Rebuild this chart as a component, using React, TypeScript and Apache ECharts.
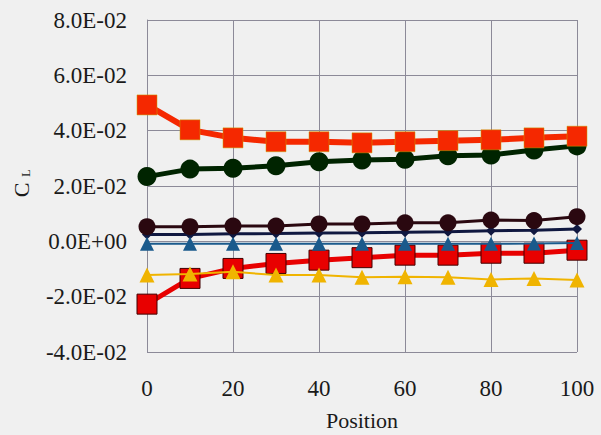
import React, { useEffect, useRef } from "react";
import * as echarts from "echarts";

const positions = [0, 10, 20, 30, 40, 50, 60, 70, 80, 90, 100];
const redTop = [0.0493, 0.0403, 0.0374, 0.036, 0.036, 0.0356, 0.036, 0.0364, 0.0367, 0.0374, 0.038];
const greenCircles = [0.0234, 0.0261, 0.0264, 0.0273, 0.0288, 0.0294, 0.0297, 0.0309, 0.0312, 0.033, 0.0345];
const brownCircles = [0.0053, 0.0053, 0.0055, 0.0055, 0.0063, 0.0063, 0.0067, 0.0067, 0.0077, 0.0075, 0.0089];
const navyDiamonds = [0.0025, 0.0025, 0.0027, 0.0028, 0.003, 0.0031, 0.0033, 0.0035, 0.0038, 0.004, 0.0045];
const blueTriangles = [-0.0009, -0.0009, -0.0009, -0.0009, -0.0009, -0.0009, -0.0009, -0.0009, -0.0009, -0.0008, -0.0006];
const yellowTriangles = [-0.0122, -0.0118, -0.011, -0.0122, -0.0122, -0.013, -0.0128, -0.013, -0.0138, -0.0134, -0.014];
const redBottom = [-0.0227, -0.0134, -0.0098, -0.008, -0.0068, -0.0059, -0.005, -0.005, -0.0043, -0.0043, -0.0032];

const xTicks = { min: 0, max: 100, interval: 20 };
const yTicks = { min: -0.04, max: 0.08, interval: 0.02 };

const pair = (ys: number[]) => positions.map((x, i) => [x, ys[i]]);

const fmtY = (v: number) => {
  if (Math.abs(v) < 1e-12) return "0.0E+00";
  const s = v.toExponential(1);
  const [m, e] = s.split("e");
  const n = parseInt(e, 10);
  const sign = n < 0 ? "-" : "+";
  const abs = Math.abs(n);
  return `${m}E${sign}${abs < 10 ? "0" + abs : abs}`;
};

const serif = "Liberation Serif";
const textColor = "#1a1a1a";

export default function App() {
  const ref = useRef<HTMLDivElement>(null);
  useEffect(() => {
    if (!ref.current) return;
    const chart = echarts.init(ref.current, undefined, { renderer: "svg" });
    const gridColor = "#8c8a98";
    chart.setOption({
      animation: false,
      backgroundColor: "#f0f0f0",
      textStyle: { fontFamily: serif },
      grid: { left: 147, right: 24, top: 20, bottom: 83, containLabel: false, outerBoundsMode: "none" },
      xAxis: {
        type: "value",
        min: xTicks.min,
        max: xTicks.max,
        interval: xTicks.interval,
        name: "Position",
        nameLocation: "middle",
        nameGap: 57,
        nameTextStyle: { fontFamily: serif, fontSize: 22, color: textColor },
        axisLine: { show: true, lineStyle: { color: gridColor, width: 1 } },
        axisTick: { show: false },
        axisLabel: { color: textColor, margin: 25, fontFamily: serif, fontSize: 23 },
        splitLine: { show: true, lineStyle: { color: gridColor, width: 1 } },
      },
      yAxis: {
        type: "value",
        min: yTicks.min,
        max: yTicks.max,
        interval: yTicks.interval,
        axisLine: { show: true, lineStyle: { color: gridColor, width: 1 } },
        axisTick: { show: false },
        axisLabel: { color: textColor, margin: 20, formatter: fmtY, fontFamily: serif, fontSize: 23 },
        splitLine: { show: true, lineStyle: { color: gridColor, width: 1 } },
      },
      graphic: [
        {
          type: "text",
          x: 21,
          y: 190,
          rotation: Math.PI / 2,
          style: { text: "C", fontFamily: serif, fontSize: 22, fill: textColor, align: "center", verticalAlign: "middle" },
        },
        {
          type: "text",
          x: 26,
          y: 173,
          rotation: Math.PI / 2,
          style: { text: "L", fontFamily: serif, fontSize: 12, fill: textColor, align: "center", verticalAlign: "middle" },
        },
      ],
      series: [
        {
          type: "line",
          data: pair(redBottom),
          symbol: "rect",
          symbolSize: 20,
          lineStyle: { color: "#e80000", width: 5 },
          itemStyle: { color: "#e80000", borderColor: "#400000", borderWidth: 1 },
          z: 2,
        },
        {
          type: "line",
          data: pair(yellowTriangles),
          symbol: "triangle",
          symbolSize: 15,
          lineStyle: { color: "#f0b400", width: 2 },
          itemStyle: { color: "#f0b400" },
          z: 3,
        },
        {
          type: "line",
          data: pair(navyDiamonds),
          symbol: "diamond",
          symbolSize: 10,
          lineStyle: { color: "#101840", width: 3 },
          itemStyle: { color: "#101840" },
          z: 4,
        },
        {
          type: "line",
          data: pair(blueTriangles),
          symbol: "triangle",
          symbolSize: 14,
          lineStyle: { color: "#1a5a8c", width: 2 },
          itemStyle: { color: "#1a5a8c" },
          z: 5,
        },
        {
          type: "line",
          data: pair(brownCircles),
          symbol: "circle",
          symbolSize: 17,
          lineStyle: { color: "#2a0810", width: 3 },
          itemStyle: { color: "#2a0810" },
          z: 6,
        },
        {
          type: "line",
          data: pair(greenCircles),
          symbol: "circle",
          symbolSize: 19,
          lineStyle: { color: "#002400", width: 5 },
          itemStyle: { color: "#002400" },
          z: 7,
        },
        {
          type: "line",
          data: pair(redTop),
          symbol: "rect",
          symbolSize: 20,
          lineStyle: { color: "#f52800", width: 6 },
          itemStyle: { color: "#f52800", borderColor: "#c8a000", borderWidth: 0.5 },
          z: 8,
        },
      ],
    });
    return () => chart.dispose();
  }, []);
  return (
    <>
      <style>{`#cl-chart text { font-family: "Liberation Serif", serif !important; }`}</style>
      <div
        id="cl-chart"
        ref={ref}
        style={{ position: "absolute", left: 0, top: 0, width: 601, height: 435, background: "#f0f0f0" }}
      />
    </>
  );
}
